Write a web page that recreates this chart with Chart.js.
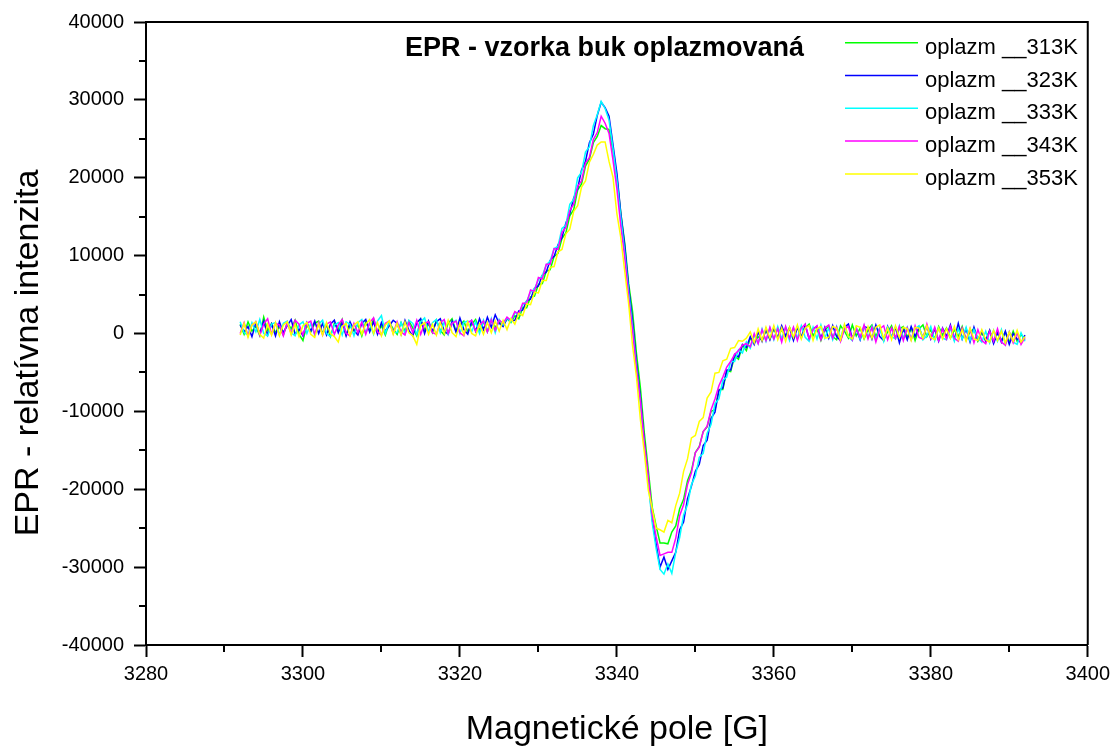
<!DOCTYPE html>
<html><head><meta charset="utf-8">
<script src="https://cdn.jsdelivr.net/npm/chart.js@4.4.1/dist/chart.umd.min.js"></script>
<style>html,body{margin:0;padding:0;background:#fff}canvas{display:block}</style>
</head><body>
<canvas id="c" width="1115" height="750"></canvas>
<script>
// Magnetic field positions [G]
const field = [
3292,3292.5,3293,3293.5,3294,3294.5,3295,3295.5,3296,3296.5,
3297,3297.5,3298,3298.5,3299,3299.5,3300,3300.5,3301,3301.5,
3302,3302.5,3303,3303.5,3304,3304.5,3305,3305.5,3306,3306.5,
3307,3307.5,3308,3308.5,3309,3309.5,3310,3310.5,3311,3311.5,
3312,3312.5,3313,3313.5,3314,3314.5,3315,3315.5,3316,3316.5,
3317,3317.5,3318,3318.5,3319,3319.5,3320,3320.5,3321,3321.5,
3322,3322.5,3323,3323.5,3324,3324.5,3325,3325.5,3326,3326.5,
3327,3327.5,3328,3328.5,3329,3329.5,3330,3330.5,3331,3331.5,
3332,3332.5,3333,3333.5,3334,3334.5,3335,3335.5,3336,3336.5,
3337,3337.5,3338,3338.5,3339,3339.5,3340,3340.5,3341,3341.5,
3342,3342.5,3343,3343.5,3344,3344.5,3345,3345.5,3346,3346.5,
3347,3347.5,3348,3348.5,3349,3349.5,3350,3350.5,3351,3351.5,
3352,3352.5,3353,3353.5,3354,3354.5,3355,3355.5,3356,3356.5,
3357,3357.5,3358,3358.5,3359,3359.5,3360,3360.5,3361,3361.5,
3362,3362.5,3363,3363.5,3364,3364.5,3365,3365.5,3366,3366.5,
3367,3367.5,3368,3368.5,3369,3369.5,3370,3370.5,3371,3371.5,
3372,3372.5,3373,3373.5,3374,3374.5,3375,3375.5,3376,3376.5,
3377,3377.5,3378,3378.5,3379,3379.5,3380,3380.5,3381,3381.5,
3382,3382.5,3383,3383.5,3384,3384.5,3385,3385.5,3386,3386.5,
3387,3387.5,3388,3388.5,3389,3389.5,3390,3390.5,3391,3391.5,
3392];

const green313 = [
1200,-100,1500,300,900,-300,2100,400,1300,100,
900,-200,1400,600,1700,-100,-900,1100,200,1300,
1600,0,1100,-400,1300,500,1800,-200,1000,300,
1200,-300,1500,400,1900,200,1000,-200,1400,600,
-100,1400,300,1600,700,-300,1800,500,1200,100,
1700,400,-200,1300,1900,300,1100,1600,200,1200,
1800,400,1500,200,1600,800,1500,1000,1900,1400,
2300,1900,3300,3300,4700,4800,6300,6400,8000,8200,
9900,10300,12200,12900,15100,15900,18400,19200,21500,22400,
24500,25300,26700,26300,26200,23500,20100,15500,11600,6400,
2800,-2600,-7000,-12800,-17500,-22300,-24700,-26900,-26900,-27000,
-25500,-24700,-22500,-21300,-18900,-17600,-15300,-14500,-12600,-12000,
-10000,-9800,-7200,-7200,-4800,-4900,-2900,-3300,-1500,-2200,
-600,-1200,-400,-900,400,-700,600,-500,500,-400,
800,-600,900,-500,700,1200,-300,600,-900,500,
900,-400,-800,1000,300,-600,1100,-300,700,-700,
500,1100,-400,700,-800,200,1000,-600,600,900,
-500,700,-900,600,1100,-400,500,-700,900,-200,
700,-600,500,-400,900,-800,200,600,-1000,100,
-800,400,-1100,100,-900,200,-1200,300,-1000,-100,
-800];

const blue323 = [
1100,200,900,-400,1400,0,1600,-200,1200,-300,
1500,100,1000,1800,-100,600,-300,1400,300,1600,
0,1300,-200,1200,1700,100,1400,-300,1500,400,
-200,1300,1800,200,1500,-100,1400,300,1000,1700,
1300,-100,1700,400,-300,1400,1900,0,1600,300,
1500,1900,300,-100,1600,200,2000,500,-100,1600,
300,1900,500,2100,800,2400,1300,900,1900,1600,
1700,2900,3000,4200,4400,5800,6100,7500,7900,9400,
9900,11400,12300,14200,15400,17400,18600,21000,22100,24500,
25600,28000,29700,29000,27900,24300,20600,15400,11300,5900,
1600,-3800,-8300,-13900,-18600,-23800,-27000,-30000,-28700,-30300,
-29200,-28100,-25200,-24200,-21200,-19600,-17700,-16800,-14400,-13700,
-10900,-10100,-7300,-7000,-4700,-4700,-2700,-3000,-1400,-1800,
-400,-1400,200,-1000,600,-800,800,-600,1000,-300,
700,-900,800,-500,1100,-700,600,900,-600,800,
-600,1000,-400,-900,800,1200,-600,600,-800,900,
700,-700,1100,-400,-900,900,-500,800,-1200,600,
-800,900,-400,800,-600,1000,-700,600,-1000,700,
-400,1100,-800,1300,-700,600,-1100,800,-800,300,
-1000,400,-1300,100,-1100,300,-1400,0,-700,-1200,
-200];

const cyan333 = [
1500,100,-200,1400,200,1800,0,-300,1200,1400,
-200,1300,1600,100,-300,1100,1500,0,1300,-200,
1200,1700,0,-400,1100,1400,-200,1500,1200,-300,
1400,1800,100,1300,-100,1600,2300,0,1500,200,
100,1400,0,1700,1300,-100,1500,2000,200,1400,
1800,100,1500,-100,1300,1700,0,1400,1600,200,
1500,0,1700,300,1900,100,1800,1100,2000,1500,
2700,2400,3700,4100,5300,5700,6900,7400,8800,9300,
10900,11200,13500,13900,16600,17200,20000,20700,23300,24000,
26700,28100,29800,28900,27400,23800,19700,14900,10400,5300,
800,-4500,-8900,-14500,-19100,-24300,-27600,-30300,-30900,-29600,
-30800,-28100,-26200,-23300,-22000,-19400,-18300,-15900,-15400,-12800,
-11700,-9000,-8400,-6000,-5600,-3600,-3600,-2100,-2500,-1100,
-1900,-200,-1300,600,-1000,700,-800,900,-700,800,
-900,700,-600,1000,-500,-1000,800,-700,1100,-600,
700,-800,900,-600,1100,-400,-900,800,-700,1000,
-500,900,-800,700,-1000,800,-400,-700,1000,-600,
800,-700,600,1000,-800,-300,900,-900,700,-600,
-800,700,-1000,600,-700,800,-900,500,-600,-1100,
300,-1200,400,-1000,500,-1400,200,-1100,-1400,100,
-1000];

const magenta343 = [
0,1400,-300,1100,1500,-200,1200,1900,-100,1300,
1100,-300,1400,0,1700,1200,-200,1300,1600,-100,
1400,-200,1200,1500,-100,1100,1800,0,-300,1300,
100,1500,-100,1400,2000,200,-200,1300,1600,0,
1500,200,-200,1400,100,1700,-100,1300,1500,100,
-100,1400,1800,0,1300,1600,100,-300,1400,1700,
300,1000,1600,200,1800,400,1700,1300,2100,1700,
2800,2500,3900,3900,5600,5400,7200,7000,8900,8900,
10900,10800,13000,13600,15800,16600,18900,19600,21900,22600,
24900,25800,27900,27000,25700,22300,18600,13800,9800,4700,
400,-4600,-8700,-14100,-18300,-23300,-26100,-28500,-28300,-28100,
-28100,-26300,-23400,-22000,-19400,-17900,-15300,-14600,-12600,-11900,
-9800,-8400,-6700,-5600,-4300,-3600,-2700,-2200,-1500,-1300,
-1700,0,-1300,500,-900,800,-700,600,-1100,900,
-600,800,-900,700,1200,-700,500,1000,-800,700,
1100,-600,800,-1000,600,900,-800,700,-500,1100,
-700,800,-1100,600,1000,-800,700,-600,900,-900,
700,-800,1000,-500,-700,1200,-600,800,-900,600,
-700,900,-600,-1000,700,-800,600,-1200,500,-900,
-1300,300,-1000,600,-1100,-1500,200,-1200,100,-1400,
-500];

const yellow353 = [
-200,1300,-500,1100,1500,-100,-600,1200,-200,1400,
-300,1100,1500,-200,1200,-400,1000,1400,-100,-500,
1200,-200,1400,0,-400,-1100,900,1300,-300,1100,
1500,-100,1200,1800,0,1400,-300,1100,1600,-100,
1300,-200,1500,100,-300,-1400,1000,1400,-100,1200,
-200,1400,0,1700,100,-400,1300,-100,1500,0,
-300,1200,-100,1400,100,1600,300,1700,500,1900,
1200,2600,2300,3800,3700,5300,5200,6800,6800,8500,
8600,10500,10800,12800,13400,15700,16400,18800,19600,22000,
23000,24200,24600,24600,22100,20100,15400,12300,8000,3800,
-1600,-5600,-11100,-15300,-20100,-22500,-25000,-25200,-25500,-24000,
-24300,-22100,-20500,-17700,-16100,-13400,-13100,-11300,-10800,-8300,
-7500,-5100,-5000,-3500,-3300,-1900,-1800,-900,-1000,-600,
200,-1200,600,-900,800,-600,1000,-800,700,-1000,
800,-500,1100,-700,700,1000,-900,600,900,-600,
-500,900,700,-800,1200,-400,-700,1000,800,-600,
900,-600,800,1100,-700,700,-800,1000,-500,800,
600,-900,800,700,-600,1000,-500,-800,700,-700,
600,-600,900,-800,500,-1000,700,-700,-900,500,
-800,-1100,400,-900,300,-1200,200,-1000,400,-1100,
-400];

const seriesNames = ['oplazm __313K','oplazm __323K','oplazm __333K','oplazm __343K','oplazm __353K'];
const seriesColors = ['#00ff00','#0000ff','#00ffff','#ff00ff','#ffff00'];
const xTicks = [3280,3300,3320,3340,3360,3380,3400];
const xMinorTicks = [3290,3310,3330,3350,3370,3390];
const yTicks = [-40000,-30000,-20000,-10000,0,10000,20000,30000,40000];
const yMinorTicks = [-35000,-25000,-15000,-5000,5000,15000,25000,35000];
const chartTitle = 'EPR - vzorka buk oplazmovaná';
const xTitle = 'Magnetické pole [G]';
const yTitle = 'EPR - relatívna intenzita';

const FONT = '"Liberation Sans", Arial, Helvetica, sans-serif';
const seriesValues = [green313, blue323, cyan333, magenta343, yellow353];

const datasets = seriesValues.map((vals, i) => ({
  label: seriesNames[i],
  data: field.map((g, k) => ({x: g, y: vals[k]})),
  borderColor: seriesColors[i],
  backgroundColor: seriesColors[i],
  borderWidth: 1.5,
  pointRadius: 0,
  fill: false,
  tension: 0,
  order: seriesValues.length - i
}));

const decor = {
  id: 'decor',
  afterDraw(chart) {
    const {ctx, chartArea: a, scales: {x, y}} = chart;
    ctx.save();
    ctx.strokeStyle = '#000';
    ctx.lineWidth = 2;
    ctx.beginPath();
    ctx.moveTo(a.left, a.top); ctx.lineTo(a.right, a.top); ctx.lineTo(a.right, a.bottom);
    ctx.stroke();
    ctx.beginPath();
    xMinorTicks.forEach(v => { const px = Math.round(x.getPixelForValue(v)); ctx.moveTo(px, a.bottom); ctx.lineTo(px, a.bottom + 7); });
    yMinorTicks.forEach(v => { const py = Math.round(y.getPixelForValue(v)); ctx.moveTo(a.left, py); ctx.lineTo(a.left - 7, py); });
    ctx.stroke();

    ctx.fillStyle = '#000';
    ctx.font = 'bold 27px ' + FONT;
    ctx.textAlign = 'left';
    ctx.textBaseline = 'alphabetic';
    ctx.fillText(chartTitle, 405, 56);

    ctx.font = '22px ' + FONT;
    chart.data.datasets.forEach((ds, i) => {
      const yy = 42.7 + i * 32.8;
      ctx.strokeStyle = ds.borderColor;
      ctx.lineWidth = 1.5;
      ctx.beginPath(); ctx.moveTo(845, yy); ctx.lineTo(918, yy); ctx.stroke();
      ctx.fillStyle = '#000';
      ctx.fillText(ds.label, 925, yy + 11);
    });

    ctx.font = '34px ' + FONT;
    ctx.textAlign = 'center';
    ctx.fillText(xTitle, (a.left + a.right) / 2, 739);
    ctx.translate(38, 353);
    ctx.rotate(-Math.PI / 2);
    ctx.fillText(yTitle, 0, 0);
    ctx.restore();
  }
};

new Chart(document.getElementById('c'), {
  type: 'line',
  data: {datasets},
  options: {
    responsive: false,
    animation: false,
    devicePixelRatio: 1,
    layout: {padding: {top: 19, right: 26, bottom: 0, left: 0}},
    plugins: {legend: {display: false}, title: {display: false}, tooltip: {enabled: false}},
    scales: {
      x: {
        type: 'linear', min: 3280, max: 3400,
        afterBuildTicks: s => { s.ticks = xTicks.map(v => ({value: v})); },
        afterFit: s => { s.height = 105; },
        ticks: {callback: v => String(v), font: {family: FONT, size: 20}, color: '#000', padding: 5, maxRotation: 0, autoSkip: false},
        grid: {display: true, drawOnChartArea: false, drawTicks: true, tickLength: 12, tickWidth: 2, tickColor: '#000'},
        border: {display: true, color: '#000', width: 2}
      },
      y: {
        type: 'linear', min: -40000, max: 40000,
        afterBuildTicks: s => { s.ticks = yTicks.map(v => ({value: v})); },
        afterFit: s => { s.width = 146; },
        ticks: {callback: v => String(v), font: {family: FONT, size: 20}, color: '#000', padding: 10, autoSkip: false},
        grid: {display: true, drawOnChartArea: false, drawTicks: true, tickLength: 12, tickWidth: 2, tickColor: '#000'},
        border: {display: true, color: '#000', width: 2}
      }
    }
  },
  plugins: [decor]
});
</script>
</body></html>
